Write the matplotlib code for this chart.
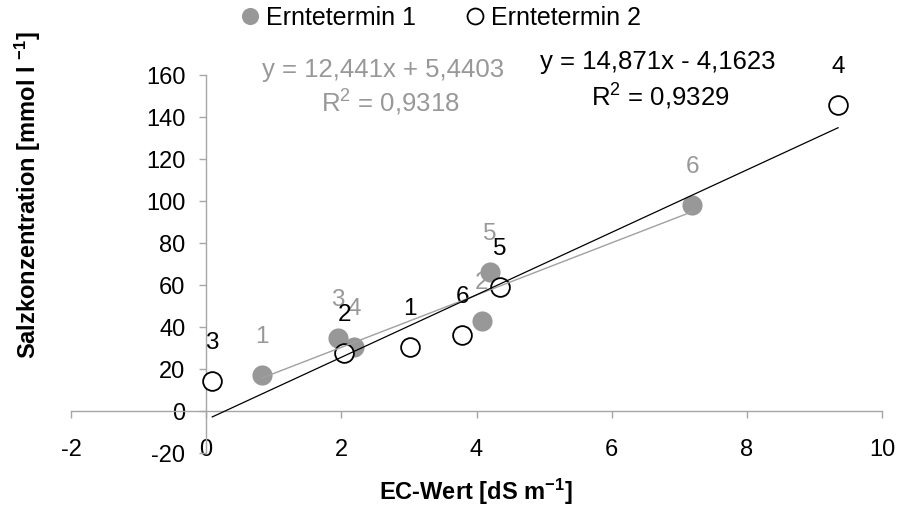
#Salt concentration vs. EC value, two harvest dates with linear trendlines
import matplotlib.pyplot as plt

plt.rcParams['font.family'] = ['Liberation Sans', 'DejaVu Sans']
plt.rcParams['mathtext.fontset'] = 'custom'
plt.rcParams['mathtext.rm'] = 'Liberation Sans'
plt.rcParams['mathtext.bf'] = 'Liberation Sans:bold'
plt.rcParams['mathtext.default'] = 'regular'

# Erntetermin 1 (grey filled circles)
EC1   = [0.83, 4.08, 1.95, 2.19, 4.20, 7.19]
SALZ1 = [17.1, 42.9, 34.8, 30.5, 66.2, 98.1]
LAB1  = ['1', '2', '3', '4', '5', '6']
# Erntetermin 2 (open circles)
EC2   = [3.02, 2.04, 0.09, 9.35, 4.35, 3.79]
SALZ2 = [30.5, 27.6, 14.3, 145.7, 59.0, 36.2]
LAB2  = ['1', '2', '3', '4', '5', '6']
# trendline coefficients as printed in the chart
FIT1 = (12.441, 5.4403)
FIT2 = (14.871, -4.1623)
EQ1 = ['y = 12,441x + 5,4403', 'R$^2$ = 0,9318']
EQ2 = ['y = 14,871x - 4,1623', 'R$^2$ = 0,9329']

XTICKS = [-2, 0, 2, 4, 6, 8, 10]
YTICKS = [-20, 0, 20, 40, 60, 80, 100, 120, 140, 160]

GREY = '#989898'
AXCOL = '#a6a6a6'
FS = 17.5

fig = plt.figure(figsize=(8.99, 5.17), dpi=100)
ax = fig.add_axes([71/899, 1-453/517, (882-71)/899, (453-75)/517])

# data labels (drawn below the markers)
for x, y, l in zip(EC1, SALZ1, LAB1):
    ax.annotate(l, (x, y), xytext=(0, 27.5), textcoords='offset points',
                ha='center', va='center', fontsize=FS, color=GREY, zorder=2)
ax.plot(EC1, SALZ1, 'o', color=GREY, markersize=14.5, markeredgewidth=0,
        label='Erntetermin 1', zorder=3)
for x, y, l in zip(EC2, SALZ2, LAB2):
    ax.annotate(l, (x, y), xytext=(0, 27.5), textcoords='offset points',
                ha='center', va='center', fontsize=FS, color='black', zorder=4)
ax.plot(EC2, SALZ2, 'o', markerfacecolor='white', markeredgecolor='black',
        markersize=13.5, markeredgewidth=1.3, label='Erntetermin 2', zorder=5)

# trendlines over the data range
xs1 = [min(EC1), max(EC1)]
ax.plot(xs1, [FIT1[0]*v + FIT1[1] for v in xs1], color='#a0a0a0', lw=1.0, zorder=6)
xs2 = [min(EC2), max(EC2)]
ax.plot(xs2, [FIT2[0]*v + FIT2[1] for v in xs2], color='black', lw=0.9, zorder=6)

ax.set_xlim(-2, 10)
ax.set_ylim(-20, 160)
ax.set_xticks(XTICKS)
ax.set_yticks(YTICKS)
ax.set_xticklabels([str(t) for t in XTICKS])
ax.set_yticklabels([str(t) for t in YTICKS])

ax.spines['top'].set_visible(False)
ax.spines['right'].set_visible(False)
ax.spines['left'].set_position(('data', 0))
ax.spines['bottom'].set_position(('data', 0))
for s in ['left', 'bottom']:
    ax.spines[s].set_color(AXCOL)
    ax.spines[s].set_linewidth(1.0)
ax.tick_params(axis='both', colors=AXCOL, labelcolor='black', labelsize=17,
               length=5, width=1.0, direction='out')
ax.tick_params(axis='x', pad=15.5)
ax.tick_params(axis='y', pad=10)

# equations
fig.text(383/899, 1-70/517, EQ1[0], color=GREY, fontsize=18.5, ha='center', va='center')
fig.text(390/899, 1-103/517, EQ1[1], color=GREY, fontsize=18.5, ha='center', va='center')
fig.text(658/899, 1-62/517, EQ2[0], color='black', fontsize=18.5, ha='center', va='center')
fig.text(660/899, 1-97/517, EQ2[1], color='black', fontsize=18.5, ha='center', va='center')

# axis titles
fig.text(28/899, 1-195/517, 'Salzkonzentration [mmol l $^{\\mathbf{-1}}$]',
         rotation=90, fontsize=17, fontweight='bold', ha='center', va='center')
fig.text(476/899, 1-492/517, 'EC-Wert [dS m$^{\\mathbf{-1}}$]',
         fontsize=17, fontweight='bold', ha='center', va='center')

fig.legend(loc='center', bbox_to_anchor=(441/899, 1-18/517), ncol=2, frameon=False,
           fontsize=18, handlelength=0.7, handletextpad=0.3, columnspacing=2.0,
           markerscale=0.85, borderaxespad=0)

fig.savefig('out.png', dpi=100)
